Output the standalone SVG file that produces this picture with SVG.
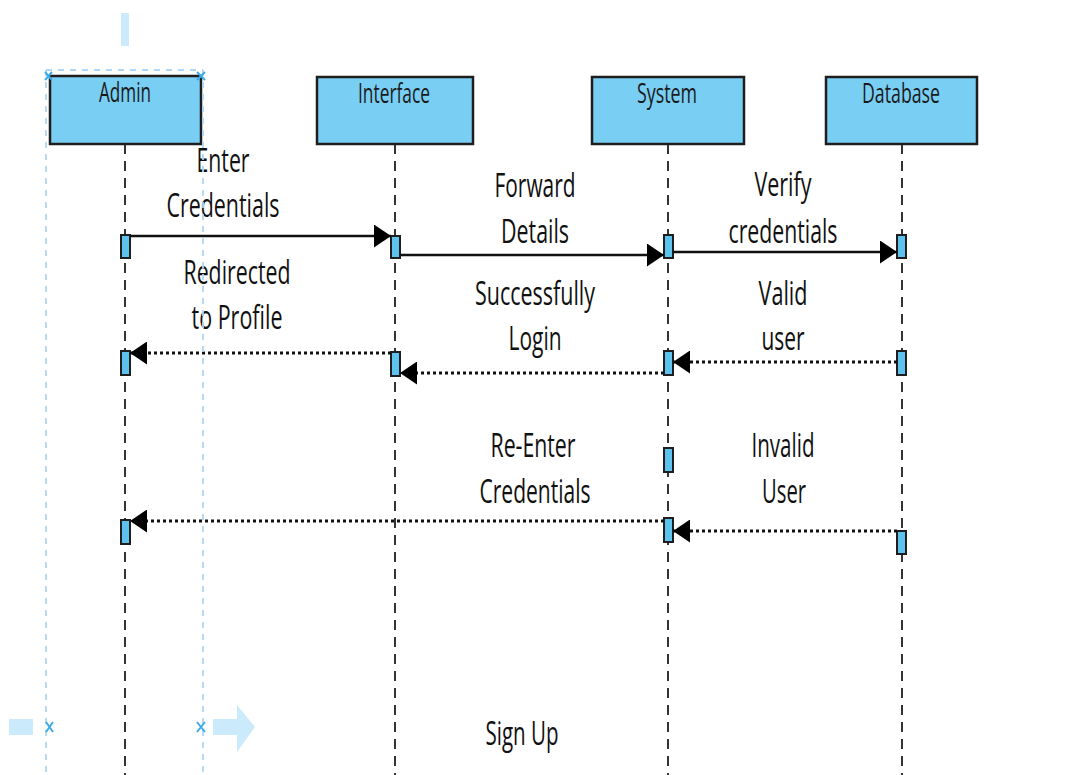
<svg xmlns="http://www.w3.org/2000/svg" width="1073" height="775" viewBox="0 0 1073 775">
<style>
.box{fill:#79CEF3;stroke:#1e1e1e;stroke-width:2.5}
.hdr{font-family:"Open Sans","Liberation Sans",sans-serif;font-size:27px;fill:#1a1a1a;text-anchor:middle}
.life{stroke:#1e1e1e;stroke-width:1.8;stroke-dasharray:10 7;fill:none}
.act{fill:#5EC2EE;stroke:#1e1e1e;stroke-width:2}
.sync{stroke:#111;stroke-width:2.6;fill:none}
.ret{stroke:#111;stroke-width:3;stroke-dasharray:3 3;fill:none}
.lbl{font-family:"Open Sans","Liberation Sans",sans-serif;font-size:32px;fill:#111;text-anchor:middle}
.sel{stroke:#AED6F6;stroke-width:1.8;stroke-dasharray:6 6;fill:none}
.xm{stroke:#3DAAEA;stroke-width:2;fill:none}
.hdl{fill:#CBEAFB}
</style>
<defs>
<marker id="ah" markerWidth="17" markerHeight="23" refX="17" refY="11.5" orient="auto" markerUnits="userSpaceOnUse">
<path d="M0,0 L17,11.5 L0,23 Z" fill="#000"/>
</marker>
</defs>
<rect width="1073" height="775" fill="#fff"/>

<g id="lifelines">
<line class="life" x1="125" y1="144" x2="125" y2="775"/>
<line class="life" x1="395" y1="144" x2="395" y2="775"/>
<line class="life" x1="668" y1="144" x2="668" y2="775"/>
<line class="life" x1="902" y1="144" x2="902" y2="775"/>
</g>

<g id="node-admin">
<rect class="box" x="50" y="76" width="151" height="68"/>
<text class="hdr" x="125" y="102" textLength="52" lengthAdjust="spacingAndGlyphs">Admin</text>
</g>
<g id="node-interface">
<rect class="box" x="317" y="77" width="156" height="67"/>
<text class="hdr" x="394" y="103" textLength="72" lengthAdjust="spacingAndGlyphs">Interface</text>
</g>
<g id="node-system">
<rect class="box" x="592" y="77" width="152" height="67"/>
<text class="hdr" x="667" y="103" textLength="60" lengthAdjust="spacingAndGlyphs">System</text>
</g>
<g id="node-database">
<rect class="box" x="826" y="77" width="151" height="67"/>
<text class="hdr" x="901" y="103" textLength="78" lengthAdjust="spacingAndGlyphs">Database</text>
</g>

<g id="activations">
<rect class="act" x="121" y="235" width="9" height="23"/>
<rect class="act" x="391" y="236" width="9" height="22"/>
<rect class="act" x="664" y="235" width="9" height="23"/>
<rect class="act" x="897" y="235" width="9" height="23"/>
<rect class="act" x="121" y="351" width="9" height="24"/>
<rect class="act" x="391" y="352" width="9" height="24"/>
<rect class="act" x="664" y="351" width="9" height="24"/>
<rect class="act" x="897" y="351" width="9" height="24"/>
<rect class="act" x="664" y="448" width="9" height="24"/>
<rect class="act" x="664" y="518" width="9" height="24"/>
<rect class="act" x="897" y="531" width="9" height="23"/>
<rect class="act" x="121" y="520" width="9" height="24"/>
</g>

<g id="connectors">
<line class="sync" x1="130" y1="236" x2="391" y2="236" marker-end="url(#ah)"/>
<line class="sync" x1="400" y1="255" x2="664" y2="255" marker-end="url(#ah)"/>
<line class="sync" x1="673" y1="252" x2="897" y2="252" marker-end="url(#ah)"/>
<line class="ret" x1="391" y1="353" x2="130" y2="353" marker-end="url(#ah)"/>
<line class="ret" x1="664" y1="373" x2="400" y2="373" marker-end="url(#ah)"/>
<line class="ret" x1="897" y1="362" x2="673" y2="362" marker-end="url(#ah)"/>
<line class="ret" x1="897" y1="531" x2="673" y2="531" marker-end="url(#ah)"/>
<line class="ret" x1="664" y1="521" x2="130" y2="521" marker-end="url(#ah)"/>
</g>

<g id="labels">
<text class="lbl" x="223" y="172" textLength="53" lengthAdjust="spacingAndGlyphs">Enter</text>
<text class="lbl" x="223" y="217" textLength="113" lengthAdjust="spacingAndGlyphs">Credentials</text>
<text class="lbl" x="535" y="197" textLength="81" lengthAdjust="spacingAndGlyphs">Forward</text>
<text class="lbl" x="535" y="243" textLength="68" lengthAdjust="spacingAndGlyphs">Details</text>
<text class="lbl" x="783" y="196" textLength="57" lengthAdjust="spacingAndGlyphs">Verify</text>
<text class="lbl" x="783" y="243" textLength="109" lengthAdjust="spacingAndGlyphs">credentials</text>
<text class="lbl" x="237" y="284" textLength="107" lengthAdjust="spacingAndGlyphs">Redirected</text>
<text class="lbl" x="237" y="329" textLength="91" lengthAdjust="spacingAndGlyphs">to Profile</text>
<text class="lbl" x="535" y="305" textLength="120" lengthAdjust="spacingAndGlyphs">Successfully</text>
<text class="lbl" x="535" y="350" textLength="53" lengthAdjust="spacingAndGlyphs">Login</text>
<text class="lbl" x="783" y="305" textLength="49" lengthAdjust="spacingAndGlyphs">Valid</text>
<text class="lbl" x="783" y="350" textLength="43" lengthAdjust="spacingAndGlyphs">user</text>
<text class="lbl" x="533" y="457" textLength="85" lengthAdjust="spacingAndGlyphs">Re-Enter</text>
<text class="lbl" x="535" y="503" textLength="111" lengthAdjust="spacingAndGlyphs">Credentials</text>
<text class="lbl" x="783" y="457" textLength="63" lengthAdjust="spacingAndGlyphs">Invalid</text>
<text class="lbl" x="784" y="503" textLength="44" lengthAdjust="spacingAndGlyphs">User</text>
<text class="lbl" x="522" y="745" textLength="73" lengthAdjust="spacingAndGlyphs">Sign Up</text>
</g>

<g id="selection">
<line class="sel" x1="46" y1="70" x2="203" y2="70"/>
<line class="sel" x1="46" y1="70" x2="46" y2="775"/>
<line class="sel" x1="203" y1="70" x2="203" y2="775"/>
<rect class="hdl" x="121" y="13" width="8" height="33"/>
<rect class="hdl" x="9" y="719" width="24" height="16"/>
<path class="hdl" d="M213,719 H237 V705 L255,727 L237,752 V735 H213 Z"/>
<path class="xm" d="M45,72 L52,80 M52,72 L45,80"/>
<path class="xm" d="M197,72 L205,80 M205,72 L197,80"/>
<path class="xm" d="M46,722 L53,732 M53,722 L46,732"/>
<path class="xm" d="M197,722 L205,732 M205,722 L197,732"/>
</g>
</svg>
